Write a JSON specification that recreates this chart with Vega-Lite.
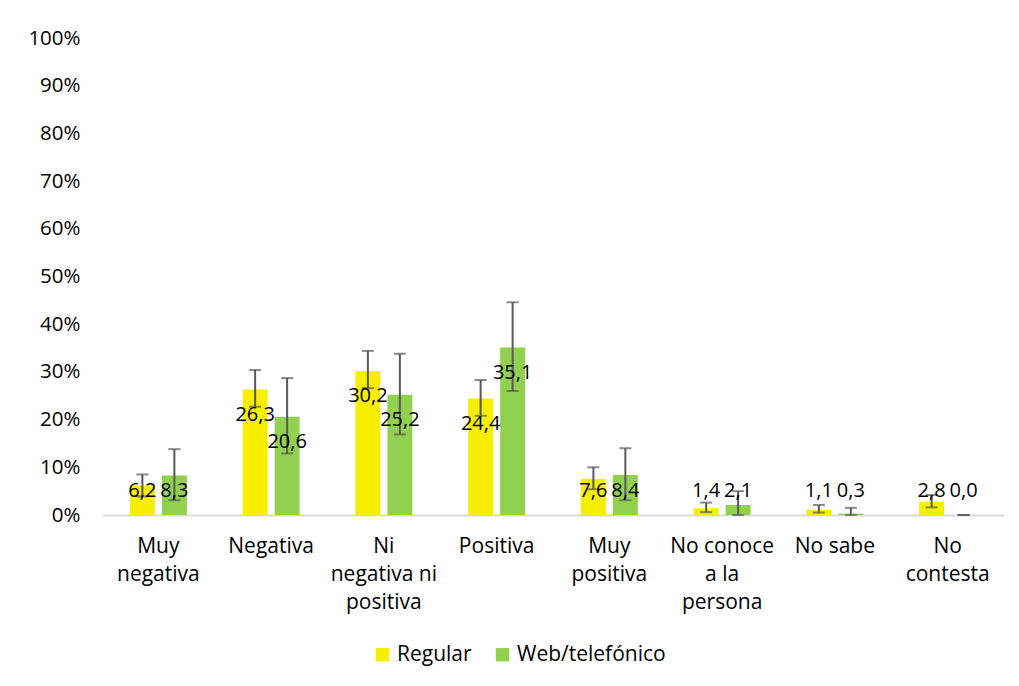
{
  "$schema": "https://vega.github.io/schema/vega-lite/v6.json",
  "width": 902,
  "height": 477,
  "autosize": {"type": "none"},
  "padding": {"left": 102, "top": 38, "right": 15, "bottom": 171},
  "background": "white",
  "config": {
    "view": {"stroke": null},
    "font": "Open Sans",
    "locale": {"number": {"decimal": ",", "thousands": ".", "grouping": [3], "currency": ["", " €"]}}
  },
  "data": {
    "values": [
      {"category": "Muy negativa", "series": "Regular", "value": 6.2, "lo": 3.9, "hi": 8.5},
      {"category": "Muy negativa", "series": "Web/telefónico", "value": 8.3, "lo": 3.1, "hi": 13.8},
      {"category": "Negativa", "series": "Regular", "value": 26.3, "lo": 22.7, "hi": 30.4},
      {"category": "Negativa", "series": "Web/telefónico", "value": 20.6, "lo": 12.9, "hi": 28.7},
      {"category": "Ni negativa ni positiva", "series": "Regular", "value": 30.2, "lo": 26.6, "hi": 34.4},
      {"category": "Ni negativa ni positiva", "series": "Web/telefónico", "value": 25.2, "lo": 16.9, "hi": 33.8},
      {"category": "Positiva", "series": "Regular", "value": 24.4, "lo": 20.8, "hi": 28.3},
      {"category": "Positiva", "series": "Web/telefónico", "value": 35.1, "lo": 26.0, "hi": 44.6},
      {"category": "Muy positiva", "series": "Regular", "value": 7.6, "lo": 5.4, "hi": 10.0},
      {"category": "Muy positiva", "series": "Web/telefónico", "value": 8.4, "lo": 3.1, "hi": 14.0},
      {"category": "No conoce a la persona", "series": "Regular", "value": 1.4, "lo": 0.6, "hi": 2.6},
      {"category": "No conoce a la persona", "series": "Web/telefónico", "value": 2.1, "lo": 0.0, "hi": 5.0},
      {"category": "No sabe", "series": "Regular", "value": 1.1, "lo": 0.5, "hi": 2.1},
      {"category": "No sabe", "series": "Web/telefónico", "value": 0.3, "lo": 0.0, "hi": 1.5},
      {"category": "No contesta", "series": "Regular", "value": 2.8, "lo": 1.6, "hi": 4.2},
      {"category": "No contesta", "series": "Web/telefónico", "value": 0.0, "lo": 0.0, "hi": 0.0}
    ]
  },
  "encoding": {
    "x": {
      "field": "category",
      "type": "nominal",
      "sort": null,
      "scale": {"paddingInner": 0.495, "paddingOuter": 0.2475},
      "axis": {
        "title": null,
        "ticks": false,
        "domainColor": "#D9D9D9",
        "domainWidth": 2,
        "labelAngle": 0,
        "labelFontSize": 21,
        "labelColor": "#000000",
        "labelPadding": 20,
        "labelLineHeight": 28,
        "labelBaseline": "top",
        "labelExpr": "datum.value == 'Muy negativa' ? ['Muy','negativa'] : datum.value == 'Ni negativa ni positiva' ? ['Ni','negativa ni','positiva'] : datum.value == 'Muy positiva' ? ['Muy','positiva'] : datum.value == 'No conoce a la persona' ? ['No conoce','a la','persona'] : datum.value == 'No contesta' ? ['No','contesta'] : datum.value"
      }
    },
    "xOffset": {"field": "series", "type": "nominal", "scale": {"paddingInner": 0.22}}
  },
  "layer": [
    {
      "mark": {"type": "bar"},
      "encoding": {
        "y": {
          "field": "value",
          "type": "quantitative",
          "scale": {"domain": [0, 100], "nice": false},
          "axis": {
            "title": null,
            "domain": false,
            "ticks": false,
            "grid": false,
            "values": [0, 10, 20, 30, 40, 50, 60, 70, 80, 90, 100],
            "labelExpr": "datum.value + '%'",
            "labelFontSize": 20.5,
            "labelColor": "#000000",
            "labelPadding": 22
          }
        },
        "color": {
          "field": "series",
          "type": "nominal",
          "scale": {"domain": ["Regular", "Web/telefónico"], "range": ["#F7EE00", "#92D050"]},
          "legend": {
            "title": null,
            "orient": "none",
            "legendX": 270,
            "legendY": 606,
            "direction": "horizontal",
            "symbolType": "square",
            "symbolSize": 180,
            "symbolStrokeWidth": 0,
            "labelFontSize": 21,
            "labelColor": "#000000",
            "columnPadding": 20
          }
        }
      }
    },
    {
      "mark": {"type": "rule", "color": "#595959", "strokeWidth": 2},
      "encoding": {
        "y": {"field": "lo", "type": "quantitative"},
        "y2": {"field": "hi"}
      }
    },
    {
      "mark": {"type": "tick", "color": "#595959", "thickness": 2, "size": 12},
      "encoding": {"y": {"field": "lo", "type": "quantitative"}}
    },
    {
      "mark": {"type": "tick", "color": "#595959", "thickness": 2, "size": 12},
      "encoding": {"y": {"field": "hi", "type": "quantitative"}}
    },
    {
      "transform": [{"calculate": "max(datum.value - 5.24, 5.03)", "as": "labelPos"}],
      "mark": {"type": "text", "fontSize": 20, "color": "#000000", "baseline": "middle"},
      "encoding": {
        "y": {"field": "labelPos", "type": "quantitative"},
        "text": {"field": "value", "type": "quantitative", "format": ".1f"}
      }
    }
  ]
}
